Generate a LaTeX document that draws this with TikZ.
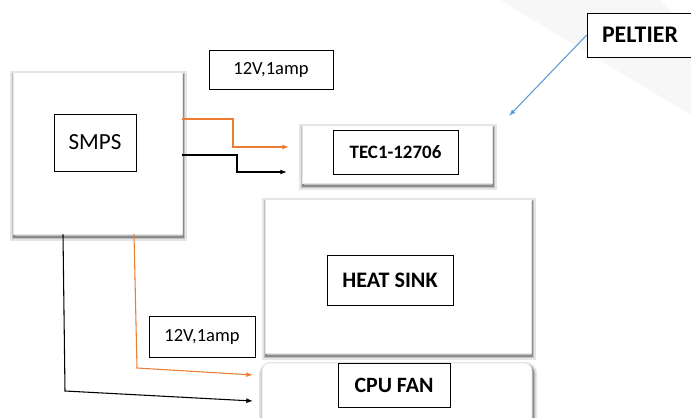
\documentclass[tikz,border=0pt]{standalone}
\usepackage{fontspec}
\setmainfont{Carlito}
\usetikzlibrary{arrows.meta,positioning,shadows}
\definecolor{wireorange}{HTML}{ED7D31}
\definecolor{wireblue}{HTML}{5B9BD5}

\begin{document}
\begin{tikzpicture}[
  x=0.75pt, y=-0.75pt,
  panel/.style={draw=gray!20, fill=white, minimum width=#1, inner sep=0pt,
    general shadow={draw=black, line width=6pt, opacity=0.1, shadow xshift=0.8pt, shadow yshift=-2.2pt},
    general shadow={draw=black, line width=3.6pt, opacity=0.16, shadow xshift=0.8pt, shadow yshift=-2.2pt},
    general shadow={draw=black, line width=1.6pt, opacity=0.28, shadow xshift=0.8pt, shadow yshift=-2.2pt}},
  tag/.style={draw, thin, fill=white, inner sep=0pt, align=center},
  wire/.style={-{Latex[length=5pt,width=3.6pt]}, line width=0.8pt}
]
\useasboundingbox (0,0) rectangle (691,417);
\fill[black!3] (500,0) -- (660,0) -- (691,30) -- (691,115) -- cycle;

\node[panel=126.75pt, minimum height=121.5pt] (smps) at (97.5,153) {};
\node[tag, minimum width=61.5pt, minimum height=42.75pt, font=\fontsize{17.3}{20}\selectfont] (smpslabel) at (95,142.5) {SMPS};

\node[tag, minimum width=93pt, minimum height=29.25pt, font=\fontsize{13.9}{16}\selectfont] (supplytop) at (271,69.5) {12V,1amp};

\node[panel=142.5pt, minimum height=43.5pt] (tec) at (397,154) {};
\node[tag, minimum width=93.75pt, minimum height=33pt, font=\bfseries\fontsize{14.2}{16}\selectfont] (teclabel) at (395.5,152) {TEC1-12706};

\node[tag, minimum width=79.5pt, minimum height=33pt, font=\bfseries\fontsize{17.9}{20}\selectfont] (peltier) at (640,35) {PELTIER};

\node[panel=199.5pt, minimum height=115.5pt] (sink) at (398,276) {};
\node[tag, minimum width=94.5pt, minimum height=37.5pt, font=\bfseries\fontsize{16.6}{19}\selectfont] (sinklabel) at (390,280) {HEAT SINK};

\node[panel=202.5pt, minimum height=46.5pt, rounded corners=6pt] (fan) at (397,394) {};
\node[tag, minimum width=84pt, minimum height=33pt, font=\bfseries\fontsize{16.4}{19}\selectfont] (fanlabel) at (394,385) {CPU FAN};

\node[tag, minimum width=79.5pt, minimum height=30.75pt, font=\fontsize{13.9}{16}\selectfont] (supplybottom) at (202,336.5) {12V,1amp};

\coordinate (tecin1) at (289,147);
\coordinate (tecin2) at (287,172);
\coordinate (fanin1) at (253,375);
\coordinate (fanin2) at (253,401);
\coordinate (peltierhit) at (509,116);

\draw[wire, draw=wireorange, -{Latex[length=5pt,width=3.6pt,fill=wireorange]}] (smps.east |- 0,119) -- (233,119) |- (tecin1);
\draw[wire] (smps.east |- 0,155) -- (237,155) |- (tecin2);
\draw[wire, draw=wireorange] (smps.south -| 134,0) -- (137,368) -- (fanin1);
\draw[wire] (smps.south -| 63,0) -- (65,391) -- (fanin2);
\draw[wire, draw=wireblue] (peltier.west) -- (peltierhit);
\end{tikzpicture}
\end{document}
